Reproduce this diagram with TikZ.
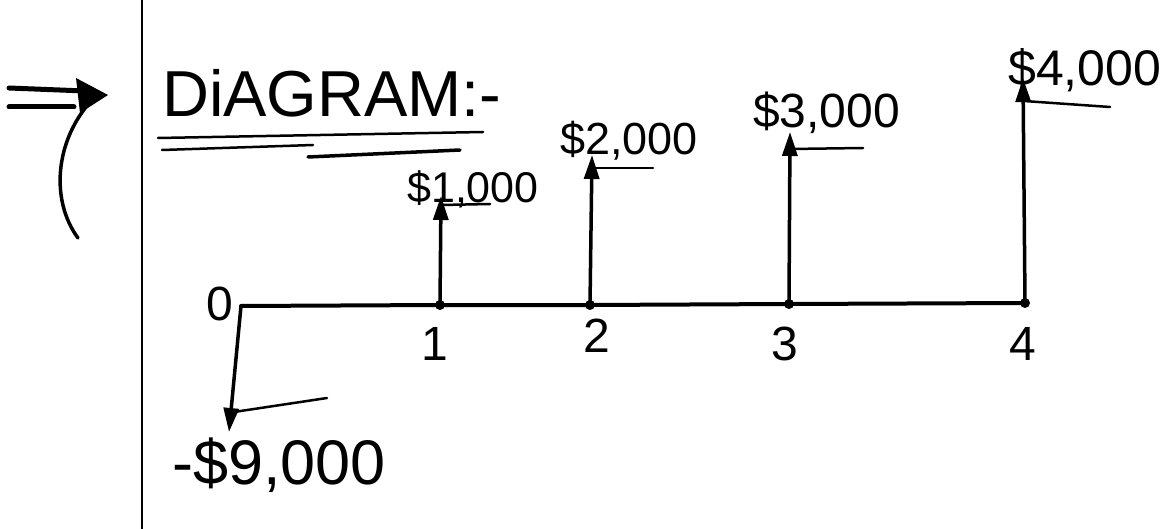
\documentclass[tikz,border=0pt]{standalone}
\usepackage{fontspec}
\setmainfont{Liberation Sans}
\usetikzlibrary{arrows.meta}
\tikzset{
  ink/.style={line width=3.5pt, line cap=round, line join=round, black},
  thin ink/.style={line width=2.5pt, line cap=round, black},
  flow/.style={ink, -{Triangle[length=24pt,width=15pt]}},
  lab/.style={inner sep=0pt, anchor=base west},
  tick/.style={inner sep=0pt, anchor=base, font=\fontsize{48}{50}\selectfont},
}
\begin{document}
\begin{tikzpicture}[x=1pt,y=-1pt]
\useasboundingbox[fill=white] (0,0) rectangle (1161,529);
% margin line
\draw[line width=2.5pt] (142,0) -- (142,529);
% left pointer
\draw[ink, line width=5pt] (9,88) -- (85,91);
\draw[ink, line width=5pt] (9,107) -- (74,107);
\fill (76,78) -- (108,95) -- (80,113) -- cycle;
\draw[ink] (92,100) .. controls (55,140) and (50,200) .. (78,238);
% title
\node[lab, font=\fontsize{65}{67}\selectfont] (title) at (162,117) {DiAGRAM:-};
\draw[thin ink] (158,138) -- (483,132);
\draw[thin ink] (162,150) -- (313,145);
\draw[thin ink, line width=3.5pt] (308,157) -- (460,150);
% axis points
\coordinate (t0) at (241,306);
\coordinate (t1) at (440,305);
\coordinate (t2) at (590,305);
\coordinate (t3) at (789,304);
\coordinate (t4) at (1025,303);
% arrow tips
\coordinate (c0) at (229,432);
\coordinate (c1) at (441,196);
\coordinate (c2) at (592,155);
\coordinate (c3) at (790,132);
\coordinate (c4) at (1023,78);
% axis
\draw[ink, line width=4pt] (t0) -- (t1) -- (t2) -- (t3) -- (t4);
\foreach \i in {1,2,3,4} \fill (t\i) circle (5pt);
% flows
\draw[flow] (t0) -- (c0);
\draw[flow] (t1) -- (c1);
\draw[flow] (t2) -- (c2);
\draw[flow] (t3) -- (c3);
\draw[flow] (t4) -- (c4);
% underline strokes beside tips
\coordinate (u0a) at (234,412); \coordinate (u0b) at (327,398);
\coordinate (u1a) at (441,205); \coordinate (u1b) at (490,204);
\coordinate (u2a) at (592,168); \coordinate (u2b) at (653,168);
\coordinate (u3a) at (790,149); \coordinate (u3b) at (863,148);
\coordinate (u4a) at (1024,101); \coordinate (u4b) at (1110,107);
\draw[thin ink] (u0a) -- (u0b);
\draw[thin ink] (u1a) -- (u1b);
\draw[thin ink] (u2a) -- (u2b);
\draw[thin ink] (u3a) -- (u3b);
\draw[thin ink] (u4a) -- (u4b);
% amounts
\node[lab, font=\fontsize{43}{45}\selectfont] (a1) at (407,203) {\$1,000};
\node[lab, font=\fontsize{45}{47}\selectfont] (a2) at (560,155) {\$2,000};
\node[lab, font=\fontsize{48}{50}\selectfont] (a3) at (753,128) {\$3,000};
\node[lab, font=\fontsize{50}{52}\selectfont] (a4) at (1008,86) {\$4,000};
\node[lab, font=\fontsize{63}{65}\selectfont] (a0) at (172,484) {-\$9,000};
% time labels
\node[tick] (n0) at (220,320) {0};
\node[tick] (n1) at (435,360) {1};
\node[tick] (n2) at (597,352) {2};
\node[tick] (n3) at (785,360) {3};
\node[tick] (n4) at (1023,360) {4};
\end{tikzpicture}
\end{document}
